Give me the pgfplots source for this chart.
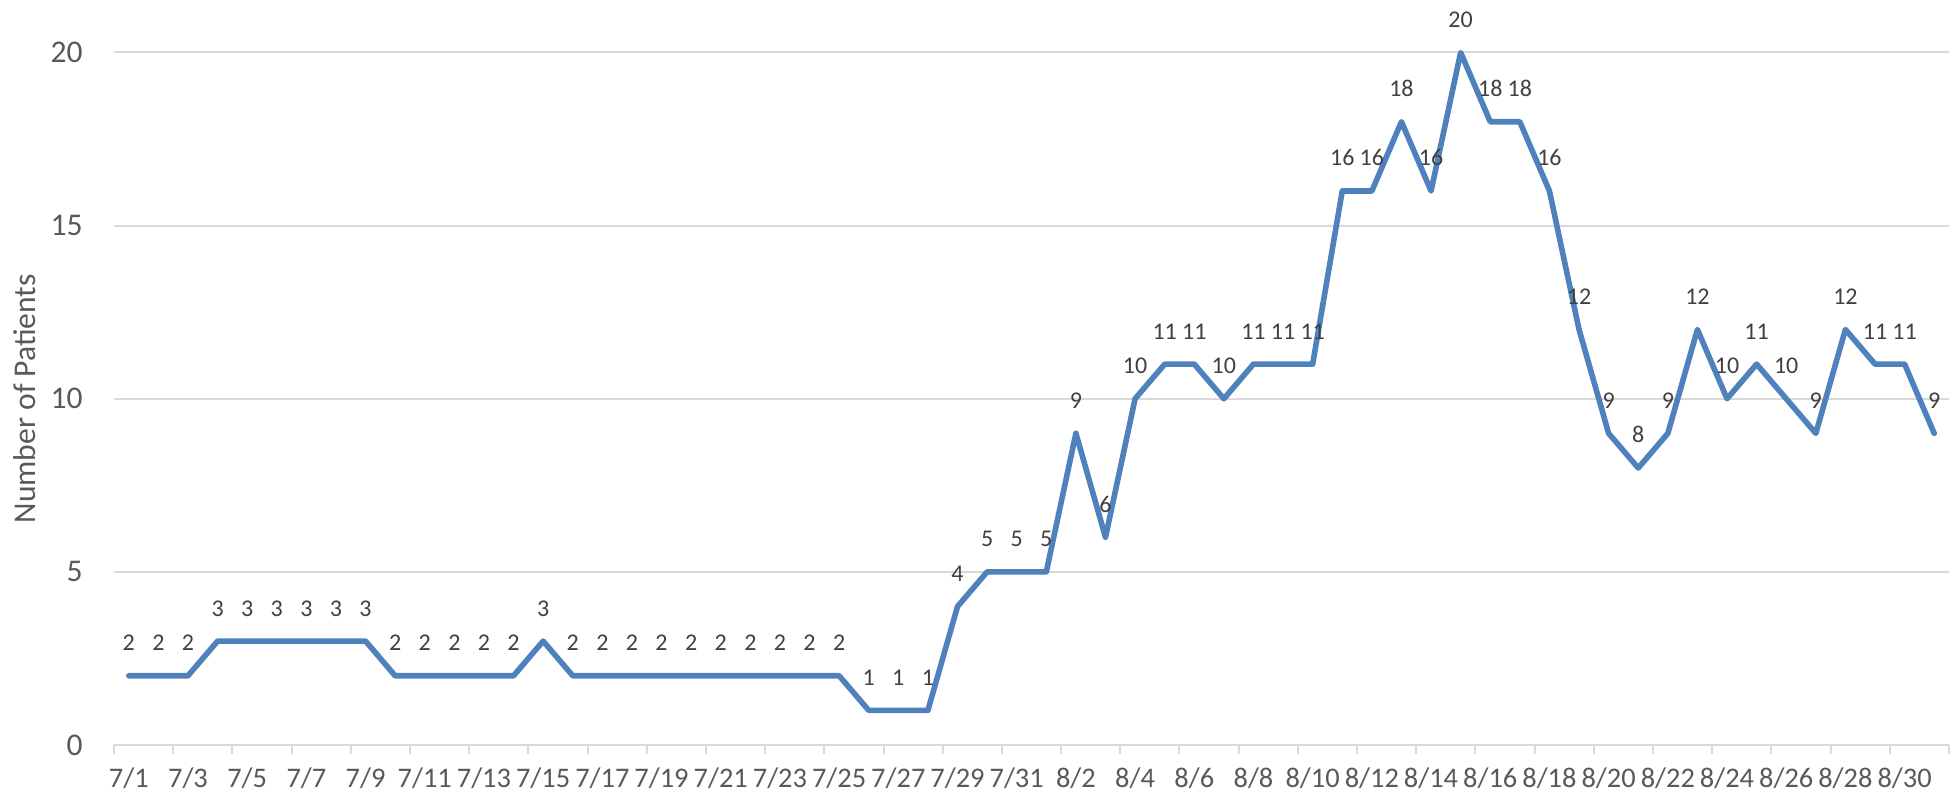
\documentclass[border=0pt]{standalone}
\usepackage{fontspec}
\setmainfont{Carlito}
\usepackage{pgfplots}
\usepackage{pgfplotstable}
\pgfplotsset{compat=1.18}
\definecolor{lineblue}{RGB}{79,129,189}
\definecolor{gridgrey}{RGB}{217,217,217}
\definecolor{ticktext}{RGB}{89,89,89}
\definecolor{labeltext}{RGB}{64,64,64}

% daily patient counts, 7/1 (day 0) to 8/31 (day 61)
\pgfplotstableread{
day count
0 2
1 2
2 2
3 3
4 3
5 3
6 3
7 3
8 3
9 2
10 2
11 2
12 2
13 2
14 3
15 2
16 2
17 2
18 2
19 2
20 2
21 2
22 2
23 2
24 2
25 1
26 1
27 1
28 4
29 5
30 5
31 5
32 9
33 6
34 10
35 11
36 11
37 10
38 11
39 11
40 11
41 16
42 16
43 18
44 16
45 20
46 18
47 18
48 16
49 12
50 9
51 8
52 9
53 12
54 10
55 11
56 10
57 9
58 12
59 11
60 11
61 9
}\patients

\begin{document}
\begin{tikzpicture}
\useasboundingbox (0,0) rectangle (979.5pt,396.5pt);
\begin{axis}[
  at={(57pt,24pt)}, anchor=south west,
  scale only axis, width=917.5pt, height=346.25pt,
  xmin=-0.5, xmax=61.5, ymin=0, ymax=20,
  clip=false,
  axis line style={draw=none},
  tick pos=left,
  tick align=outside,
  major tick length=0pt,
  minor tick length=4.5pt,
  minor tick style={gridgrey, line width=1pt},
  ytick={0,5,...,20},
  ymajorgrids,
  grid style={gridgrey, line width=1pt},
  xtick={0,2,...,60},
  xticklabels={7/1,7/3,7/5,7/7,7/9,7/11,7/13,7/15,7/17,7/19,7/21,7/23,7/25,7/27,7/29,7/31,8/2,8/4,8/6,8/8,8/10,8/12,8/14,8/16,8/18,8/20,8/22,8/24,8/26,8/28,8/30},
  minor xtick={-0.5,1.5,...,61.5},
  /pgf/number format/assume math mode=true,
  xticklabel style={font=\fontsize{14.2}{16}\selectfont, text=ticktext, anchor=base, inner sep=0pt, yshift=-21pt},
  yticklabel style={font=\fontsize{15.8}{18}\selectfont, text=ticktext, anchor=east, inner sep=0pt, xshift=-15.5pt},
  ylabel={Number of Patients},
  ylabel style={at={(axis description cs:-0.0485,0.5)}, anchor=center, font=\fontsize{15.8}{18}\selectfont, text=ticktext},
  nodes near coords,
  nodes near coords style={font=\fontsize{12}{14}\selectfont, text=labeltext, anchor=base, inner sep=0pt, yshift=12.5pt},
]
\addplot[lineblue, line width=2.8pt, line join=round, line cap=round, mark=none] table[x=day, y=count] {\patients};
\end{axis}
\end{tikzpicture}
\end{document}
